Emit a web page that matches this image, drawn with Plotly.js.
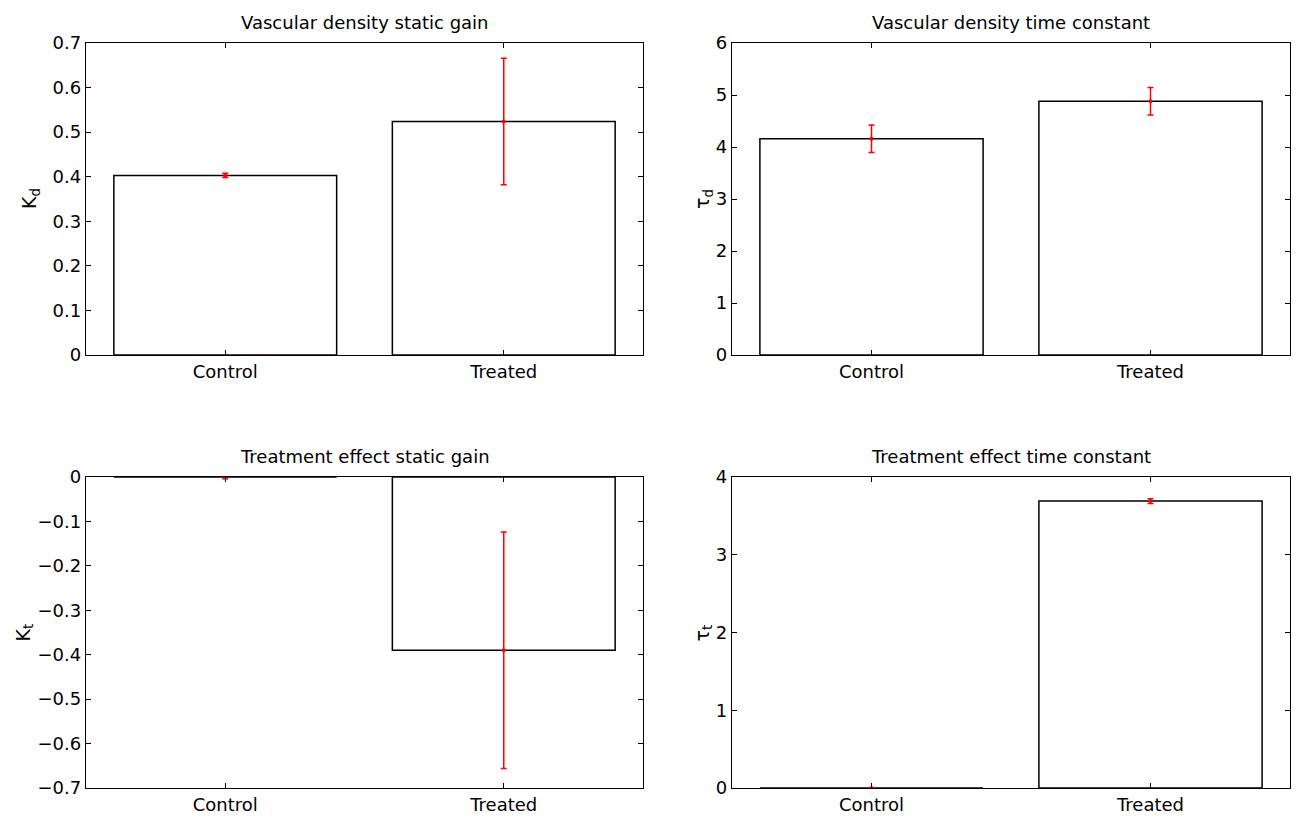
<!DOCTYPE html>
<html><head><meta charset="utf-8">
<script src="https://cdn.plot.ly/plotly-3.0.1.min.js"></script>
<style>html,body{margin:0;padding:0;background:#fff}#chart{width:1296px;height:816px}</style>
</head><body><div id="chart"></div><script>
const categories = ['Control', 'Treated'];
const kdMean = [0.403, 0.524];
const kdErr = [0.005, 0.142];
const tdMean = [4.16, 4.88];
const tdErr = [0.265, 0.263];
const ktMean = [0, -0.39];
const ktErr = [0.004, 0.266];
const ttMean = [0, 3.69];
const ttErr = [0.004, 0.03];
const panelTitles = ['Vascular density static gain', 'Vascular density time constant',
                     'Treatment effect static gain', 'Treatment effect time constant'];
const yLabels = ['K<sub>d</sub>', 'τ<sub>d</sub>', 'K<sub>t</sub>', 'τ<sub>t</sub>'];

const means = [kdMean, tdMean, ktMean, ttMean];
const errs = [kdErr, tdErr, ktErr, ttErr];

const W = 1296, H = 816;
const xDom = [[86 / W, 643 / W], [732 / W, 1290 / W], [86 / W, 643 / W], [732 / W, 1290 / W]];
const yDom = [[1 - 355 / H, 1 - 43 / H], [1 - 355 / H, 1 - 43 / H], [1 - 788 / H, 1 - 477 / H], [1 - 788 / H, 1 - 477 / H]];
const yRange = [[0, 0.7], [0, 6], [-0.7, 0], [0, 4]];
const yDtick = [0.1, 1, 0.1, 1];
const yLabShift = [-56, -29, -62, -29];

const FONT = 'DejaVu Sans, Liberation Sans, Arial, sans-serif';
const traces = [];
const layout = {
  width: W, height: H, margin: {l: 0, r: 0, t: 0, b: 0},
  paper_bgcolor: 'white', plot_bgcolor: 'white', showlegend: false,
  font: {family: FONT, size: 18, color: 'black'},
  annotations: []
};

for (let i = 0; i < 4; i++) {
  const sx = i === 0 ? '' : String(i + 1);
  const xa = 'x' + sx, ya = 'y' + sx;
  traces.push({
    type: 'bar', x: categories, y: means[i], xaxis: xa, yaxis: ya, width: 0.8,
    marker: {color: 'white', line: {color: 'black', width: 1.5}},
    hoverinfo: 'skip'
  });
  traces.push({
    type: 'scatter', mode: 'markers', x: categories, y: means[i], xaxis: xa, yaxis: ya,
    marker: {color: 'red', size: 4},
    error_y: {type: 'data', array: errs[i], visible: true, color: 'red', thickness: 1.5, width: 3},
    hoverinfo: 'skip'
  });
  layout['xaxis' + sx] = {
    type: 'category', range: [-0.5, 1.5], domain: xDom[i], anchor: ya,
    showline: true, mirror: 'allticks', linecolor: 'black', linewidth: 1.3,
    ticks: 'inside', ticklen: 5, tickwidth: 1, tickcolor: 'black',
    showgrid: false, zeroline: false, fixedrange: true,
    tickfont: {family: FONT, size: 18, color: 'black'}
  };
  layout['yaxis' + sx] = {
    range: yRange[i], dtick: yDtick[i], tick0: 0, domain: yDom[i], anchor: xa,
    showline: true, mirror: 'allticks', linecolor: 'black', linewidth: 1.3,
    ticks: 'inside', ticklen: 5, tickwidth: 1, tickcolor: 'black',
    showgrid: false, zeroline: false, fixedrange: true,
    tickfont: {family: FONT, size: 18, color: 'black'}
  };
  layout.annotations.push({
    text: panelTitles[i], xref: xa + ' domain', yref: ya + ' domain', x: 0.5, y: 1,
    xanchor: 'center', yanchor: 'bottom', yshift: 8, showarrow: false,
    font: {family: FONT, size: 18, color: 'black'}
  });
  layout.annotations.push({
    text: yLabels[i], xref: xa + ' domain', yref: ya + ' domain', x: 0, y: 0.5,
    xanchor: 'center', yanchor: 'middle', xshift: yLabShift[i], textangle: -90, showarrow: false,
    font: {family: FONT, size: 19, color: 'black'}
  });
}

Plotly.newPlot('chart', traces, layout, {displayModeBar: false, staticPlot: true});
</script></body></html>
